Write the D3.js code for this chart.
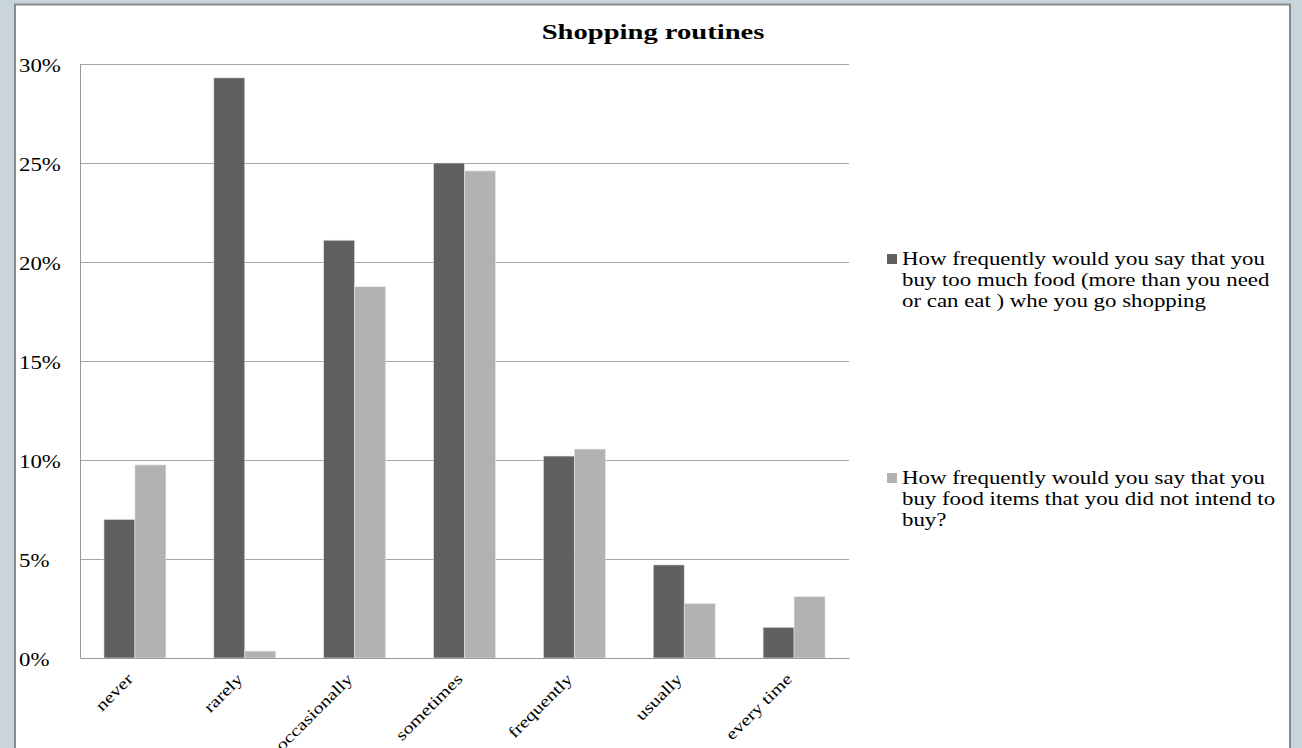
<!DOCTYPE html>
<html>
<head>
<meta charset="utf-8">
<script src="https://cdn.jsdelivr.net/npm/d3@7"></script>
<style>
  body { margin: 0; background: #c9d5dc; }
  #vis-container { width: 1302px; height: 748px; }
  text { font-family: "Liberation Serif", "Times New Roman", serif; fill: #000; }
</style>
</head>
<body>
<div id="vis-container"></div>
<script>
// chart data
const categories = ["never", "rarely", "occasionally", "sometimes", "frequently", "usually", "every time"];
const tooMuchFood = [7.0, 29.3, 21.1, 25.0, 10.2, 4.7, 1.55];
const notIntended = [9.75, 0.35, 18.75, 24.6, 10.55, 2.75, 3.1];
const seriesNames = [
  "How frequently would you say that you buy too much food (more than you need or can eat  ) whe you go shopping",
  "How frequently would you say that you buy food items that you did not intend to buy?"
];
const legendLines = [
  ["How frequently would you say that you", "buy too much food (more than you need", "or can eat  ) whe you go shopping"],
  ["How frequently would you say that you", "buy food items that you did not intend to", "buy?"]
];
const yTicks = [0, 5, 10, 15, 20, 25, 30];
const colors = ["#606060", "#b2b2b2"];

// the source text is drawn wide, so text gets stretched sideways
const stretch = 1.27;

let margin = {top: 64, right: 453, bottom: 90, left: 80},
  width = 1302 - margin.left - margin.right,
  height = 748 - margin.top - margin.bottom;

let root = d3.select("#vis-container")
  .append("svg")
  .attr("width", 1302)
  .attr("height", 748);

// white panel with the grey frame
root.append("rect")
  .attr("x", 15).attr("y", 4.5)
  .attr("width", 1275).attr("height", 750)
  .attr("fill", "#fff")
  .attr("stroke", "#8a8a8a")
  .attr("stroke-width", 2);

let svg = root.append("g")
  .attr("transform", "translate(" + margin.left + "," + margin.top + ")");

let x0 = d3.scaleBand()
  .domain(categories)
  .range([0, width])
  .paddingInner(0.436)
  .paddingOuter(0.218);

let x1 = d3.scaleBand()
  .domain([0, 1])
  .range([0, x0.bandwidth()]);

let y = d3.scaleLinear()
  .domain([0, 30])
  .range([height, 0]);

// gridlines
svg.append("g")
  .selectAll("line")
  .data(yTicks.filter(d => d > 0))
  .enter()
  .append("line")
    .attr("x1", 0)
    .attr("x2", width)
    .attr("y1", d => Math.round(y(d)) + 0.5)
    .attr("y2", d => Math.round(y(d)) + 0.5)
    .attr("stroke", "#a6a6a6");

// bars
let groups = svg.selectAll(".grp")
  .data(categories)
  .enter()
  .append("g")
  .attr("transform", d => "translate(" + x0(d) + ",0)");

groups.selectAll("rect")
  .data((d, i) => [tooMuchFood[i], notIntended[i]])
  .enter()
  .append("rect")
    .attr("x", (d, j) => x1(j))
    .attr("y", d => y(d))
    .attr("width", x1.bandwidth())
    .attr("height", d => height - y(d))
    .attr("fill", (d, j) => colors[j])
    .attr("stroke", "#e6e6e6")
    .attr("stroke-width", 0.6);

// axes
let yAxis = svg.append("g")
  .call(d3.axisLeft(y).tickValues(yTicks).tickSize(0).tickFormat(d => d + "%"));
yAxis.select(".domain").attr("stroke", "#999");
yAxis.selectAll("text")
  .attr("x", 0)
  .attr("text-anchor", "start")
  .attr("dy", "0.42em")
  .attr("transform", "translate(-61,0) scale(" + stretch + ",1)")
  .style("font-family", "Liberation Serif")
  .style("font-size", "18px");

let xAxis = svg.append("g")
  .attr("transform", "translate(0," + height + ")")
  .call(d3.axisBottom(x0).tickSize(0));
xAxis.select(".domain").attr("stroke", "#999");
xAxis.selectAll("text")
  .attr("text-anchor", "end")
  .attr("y", 0)
  .attr("dy", 0)
  .attr("transform", "translate(-1,22) rotate(-45) scale(" + stretch + ",1)")
  .style("font-family", "Liberation Serif")
  .style("font-size", "16px");

// title
root.append("text")
  .attr("text-anchor", "middle")
  .attr("transform", "translate(653,39) scale(1.3,1)")
  .style("font-size", "22px")
  .style("font-weight", "bold")
  .text("Shopping routines");

// legend
let legendY = [259, 478];
legendLines.forEach((lines, i) => {
  let lg = root.append("g").attr("transform", "translate(887," + legendY[i] + ")");
  lg.append("rect")
    .attr("x", 0).attr("y", -5)
    .attr("width", 10).attr("height", 10)
    .attr("fill", colors[i]);
  lg.append("title").text(seriesNames[i]);
  lg.append("g")
    .attr("transform", "translate(15,0) scale(" + stretch + ",1)")
    .selectAll("text")
    .data(lines)
    .enter()
    .append("text")
      .attr("x", 0)
      .attr("y", (d, k) => k * 21 + 6)
      .style("font-size", "18px")
      .text(d => d);
});
</script>
</body>
</html>
